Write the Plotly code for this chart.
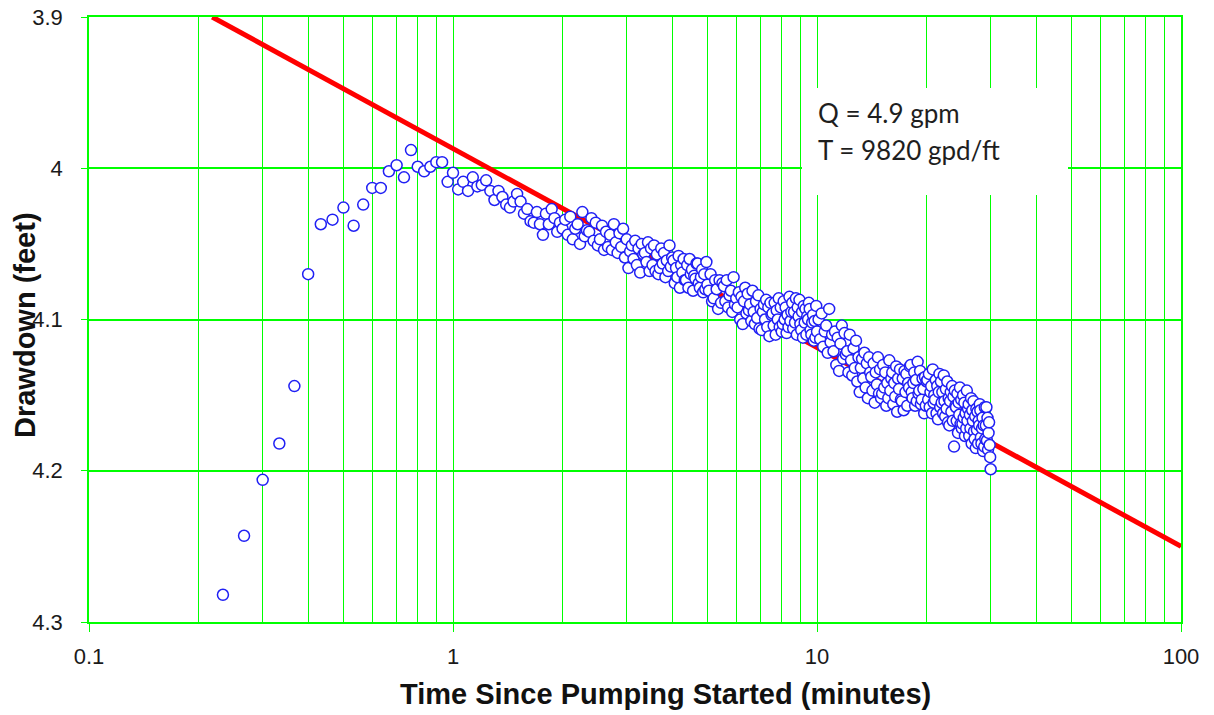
import plotly.graph_objects as go

# ---------------- data (time in seconds since pumping started, drawdown in feet) ----------------
time_early_s = [14, 16, 18, 20, 22, 24, 26, 28, 30, 32, 34, 36, 38, 40, 42, 44, 46, 48, 50, 52,
                54, 56, 58, 60]
drawdown_early_ft = [4.282, 4.243, 4.206, 4.182, 4.144, 4.070, 4.037, 4.034, 4.026, 4.038,
                     4.024, 4.013, 4.013, 4.002, 3.998, 4.006, 3.988, 3.999, 4.002, 3.999,
                     3.996, 3.996, 4.009, 4.003]

time_1to2_s = [62, 64, 66, 68, 70, 72, 74, 76, 78, 80, 82, 84, 86, 88, 90, 92, 94, 96, 98, 100,
               102, 104, 106, 108, 110, 112, 114, 116, 118, 120]
drawdown_1to2_ft = [4.014, 4.009, 4.015, 4.006, 4.012, 4.011, 4.008, 4.015, 4.021, 4.015,
                    4.019, 4.024, 4.026, 4.022, 4.017, 4.022, 4.030, 4.027, 4.035, 4.036,
                    4.029, 4.037, 4.044, 4.030, 4.037, 4.027, 4.033, 4.042, 4.036, 4.040]

time_2to5_s = [122, 124, 126, 128, 130, 132, 134, 136, 138, 140, 142, 144, 146, 148, 150,
               152, 154, 156, 158, 160, 162, 164, 166, 168, 170, 172, 174, 176, 178, 180,
               182, 184, 186, 188, 190, 192, 194, 196, 198, 200, 202, 204, 206, 208, 210,
               212, 214, 216, 218, 220, 222, 224, 226, 228, 230, 232, 234, 236, 238, 240,
               242, 244, 246, 248, 250, 252, 254, 256, 258, 260, 262, 264, 266, 268, 270,
               272, 274, 276, 278, 280, 282, 284, 286, 288, 290, 292, 294, 296, 298, 300]
drawdown_2to5_ft = [4.034, 4.044, 4.032, 4.047, 4.040, 4.037, 4.050, 4.029, 4.045, 4.041, 4.042, 4.033, 4.048, 4.036, 4.051,
                    4.047, 4.038, 4.054, 4.042, 4.052, 4.044, 4.054, 4.037, 4.049, 4.056, 4.043, 4.052, 4.040, 4.059, 4.047,
                    4.066, 4.055, 4.051, 4.060, 4.048, 4.064, 4.053, 4.069, 4.050, 4.057, 4.056, 4.062, 4.049, 4.068, 4.053,
                    4.064, 4.051, 4.068, 4.057, 4.070, 4.066, 4.053, 4.063, 4.056, 4.072, 4.061, 4.068, 4.051, 4.065, 4.059,
                    4.061, 4.076, 4.066, 4.072, 4.058, 4.079, 4.064, 4.069, 4.060, 4.074, 4.074, 4.064, 4.079, 4.060, 4.070,
                    4.067, 4.081, 4.071, 4.073, 4.063, 4.063, 4.076, 4.079, 4.072, 4.067, 4.082, 4.070, 4.080, 4.062, 4.077]

time_5to10_s = [303, 306, 309, 312, 315, 318, 321, 324, 327, 330,
                333, 336, 339, 342, 345, 348, 351, 354, 357, 360,
                363, 366, 369, 372, 375, 378, 381, 384, 387, 390,
                393, 396, 399, 402, 405, 408, 411, 414, 417, 420,
                423, 426, 429, 432, 435, 438, 441, 444, 447, 450,
                453, 456, 459, 462, 465, 468, 471, 474, 477, 480,
                483, 486, 489, 492, 495, 498, 501, 504, 507, 510,
                513, 516, 519, 522, 525, 528, 531, 534, 537, 540,
                543, 546, 549, 552, 555, 558, 561, 564, 567, 570,
                573, 576, 579, 582, 585, 588, 591, 594, 597, 600]
drawdown_5to10_ft = [4.081, 4.070, 4.088, 4.086, 4.074, 4.080, 4.093, 4.074, 4.089, 4.076,
                     4.078, 4.088, 4.074, 4.092, 4.084, 4.081, 4.095, 4.072, 4.090, 4.086,
                     4.092, 4.082, 4.100, 4.085, 4.103, 4.088, 4.079, 4.096, 4.083, 4.094,
                     4.090, 4.101, 4.081, 4.095, 4.103, 4.088, 4.099, 4.084, 4.106, 4.093,
                     4.107, 4.095, 4.090, 4.100, 4.087, 4.105, 4.092, 4.111, 4.089, 4.097,
                     4.096, 4.104, 4.089, 4.110, 4.094, 4.100, 4.086, 4.105, 4.092, 4.108,
                     4.103, 4.088, 4.100, 4.092, 4.109, 4.097, 4.105, 4.085, 4.101, 4.095,
                     4.089, 4.106, 4.095, 4.102, 4.086, 4.110, 4.092, 4.098, 4.087, 4.103,
                     4.107, 4.095, 4.112, 4.091, 4.102, 4.093, 4.110, 4.098, 4.100, 4.089,
                     4.093, 4.107, 4.110, 4.102, 4.097, 4.114, 4.101, 4.112, 4.091, 4.108]

time_10to30_s = [606, 612, 618, 624, 630, 636, 642, 648, 654, 660,
                 666, 672, 678, 684, 690, 696, 702, 708, 714, 720,
                 726, 732, 738, 744, 750, 756, 762, 768, 774, 780,
                 786, 792, 798, 804, 810, 816, 822, 828, 834, 840,
                 846, 852, 858, 864, 870, 876, 882, 888, 894, 900,
                 906, 912, 918, 924, 930, 936, 942, 948, 954, 960,
                 966, 972, 978, 984, 990, 996, 1002, 1008, 1014, 1020,
                 1026, 1032, 1038, 1044, 1050, 1056, 1062, 1068, 1074, 1080,
                 1086, 1092, 1098, 1104, 1110, 1116, 1122, 1128, 1134, 1140,
                 1146, 1152, 1158, 1164, 1170, 1176, 1182, 1188, 1194, 1200,
                 1206, 1212, 1218, 1224, 1230, 1236, 1242, 1248, 1254, 1260,
                 1266, 1272, 1278, 1284, 1290, 1296, 1302, 1308, 1314, 1320,
                 1326, 1332, 1338, 1344, 1350, 1356, 1362, 1368, 1374, 1380,
                 1386, 1392, 1398, 1404, 1410, 1416, 1422, 1428, 1434, 1440,
                 1446, 1452, 1458, 1464, 1470, 1476, 1482, 1488, 1494, 1500,
                 1506, 1512, 1518, 1524, 1530, 1536, 1542, 1548, 1554, 1560,
                 1566, 1572, 1578, 1584, 1590, 1596, 1602, 1608, 1614, 1620,
                 1626, 1632, 1638, 1644, 1650, 1656, 1662, 1668, 1674, 1680,
                 1686, 1692, 1698, 1704, 1710, 1716, 1722, 1728, 1734, 1740,
                 1746, 1752, 1758, 1764, 1770, 1776, 1782, 1788, 1794, 1800]
drawdown_10to30_ft = [4.100, 4.113, 4.096, 4.118, 4.108, 4.104, 4.122, 4.093, 4.115, 4.110,
                      4.121, 4.108, 4.130, 4.112, 4.134, 4.116, 4.104, 4.126, 4.109, 4.123,
                      4.121, 4.135, 4.110, 4.127, 4.137, 4.119, 4.132, 4.114, 4.141, 4.125,
                      4.148, 4.132, 4.126, 4.139, 4.122, 4.145, 4.129, 4.152, 4.125, 4.135,
                      4.138, 4.147, 4.129, 4.155, 4.135, 4.143, 4.125, 4.149, 4.133, 4.152,
                      4.149, 4.130, 4.145, 4.135, 4.157, 4.142, 4.152, 4.127, 4.147, 4.139,
                      4.135, 4.156, 4.142, 4.151, 4.131, 4.161, 4.139, 4.146, 4.133, 4.153,
                      4.154, 4.139, 4.160, 4.134, 4.148, 4.136, 4.157, 4.142, 4.145, 4.131,
                      4.130, 4.148, 4.152, 4.142, 4.135, 4.157, 4.140, 4.154, 4.128, 4.149,
                      4.147, 4.134, 4.156, 4.153, 4.139, 4.146, 4.162, 4.138, 4.157, 4.141,
                      4.140, 4.153, 4.136, 4.158, 4.148, 4.144, 4.162, 4.133, 4.155, 4.150,
                      4.153, 4.140, 4.162, 4.144, 4.166, 4.148, 4.136, 4.158, 4.141, 4.155,
                      4.148, 4.162, 4.137, 4.154, 4.164, 4.146, 4.159, 4.141, 4.168, 4.152,
                      4.170, 4.154, 4.148, 4.161, 4.144, 4.167, 4.151, 4.184, 4.147, 4.157,
                      4.158, 4.167, 4.149, 4.175, 4.155, 4.163, 4.145, 4.169, 4.153, 4.172,
                      4.169, 4.150, 4.165, 4.155, 4.177, 4.162, 4.172, 4.147, 4.167, 4.159,
                      4.156, 4.177, 4.163, 4.172, 4.152, 4.182, 4.160, 4.167, 4.154, 4.174,
                      4.179, 4.164, 4.185, 4.159, 4.173, 4.161, 4.182, 4.167, 4.170, 4.156,
                      4.160, 4.178, 4.182, 4.172, 4.165, 4.187, 4.170, 4.184, 4.158, 4.179,
                      4.170, 4.158, 4.180, 4.165, 4.186, 4.175, 4.168, 4.183, 4.191, 4.199]

# Cooper-Jacob straight-line fit (endpoints)
fit_time_min = [0.218, 100]
fit_drawdown_ft = [3.900, 4.250]

x_tick_vals = [0.1, 1, 10, 100]
x_tick_text = ["0.1", "1", "10", "100"]
x_minor_vals = [0.2, 0.3, 0.4, 0.5, 0.6, 0.7, 0.8, 0.9,
                2, 3, 4, 5, 6, 7, 8, 9,
                20, 30, 40, 50, 60, 70, 80, 90]
y_tick_vals = [3.9, 4.0, 4.1, 4.2, 4.3]
y_tick_text = ["3.9", "4", "4.1", "4.2", "4.3"]

info_lines = ["Q = 4.9 gpm", "T = 9820 gpd/ft"]
x_title = "Time Since Pumping Started (minutes)"
y_title = "Drawdown (feet)"

# ---------------- assemble ----------------
time_s = time_early_s + time_1to2_s + time_2to5_s + time_5to10_s + time_10to30_s
drawdown = drawdown_early_ft + drawdown_1to2_ft + drawdown_2to5_ft + drawdown_5to10_ft + drawdown_10to30_ft
assert len(time_s) == len(drawdown), (len(time_s), len(drawdown))
time_min = [s / 60.0 for s in time_s]

GREEN = "#00FF00"
W, H = 1214, 715
L, R, T, B = 89, 1181, 17, 622  # plot area in pixels

def px_x(p):
    return (p - L) / (R - L)

def px_y(p):
    return (B - p) / (B - T)

fig = go.Figure()
fig.add_trace(go.Scatter(
    x=fit_time_min, y=fit_drawdown_ft, mode="lines",
    line=dict(color="#FF0000", width=5), showlegend=False, hoverinfo="skip"))
fig.add_trace(go.Scatter(
    x=time_min, y=drawdown, mode="markers",
    marker=dict(symbol="circle", size=11, color="white",
                line=dict(color="#2020F4", width=1.5)),
    showlegend=False))

tick_font = dict(family="Liberation Sans, Arial, sans-serif", size=22, color="#1a1a1a")

fig.update_xaxes(
    type="log", range=[-1, 2], automargin=False,
    tickvals=x_tick_vals, ticktext=x_tick_text,
    showgrid=True, gridcolor=GREEN, gridwidth=1,
    minor=dict(tickvals=x_minor_vals, showgrid=True, gridcolor=GREEN, gridwidth=1, ticks=""),
    showline=True, linecolor=GREEN, linewidth=2, mirror=True,
    ticks="outside", ticklen=8, tickcolor=GREEN, tickwidth=1,
    tickfont=tick_font, zeroline=False, ticklabelstandoff=6)
fig.update_yaxes(
    range=[4.3, 3.9], automargin=False,
    tickvals=y_tick_vals, ticktext=y_tick_text,
    showgrid=True, gridcolor=GREEN, gridwidth=1.5,
    showline=True, linecolor=GREEN, linewidth=1.5, mirror=True,
    ticks="outside", ticklen=6, tickcolor=GREEN, tickwidth=1,
    tickfont=tick_font, zeroline=False, ticklabelstandoff=14)

title_font = dict(family="Liberation Sans, Arial, sans-serif", size=29, color="#111111")
annotations = [
    dict(text="<b>" + x_title + "</b>", xref="paper", yref="paper",
         x=px_x(665), y=px_y(694), xanchor="center", yanchor="middle",
         showarrow=False, font=title_font),
    dict(text="<b>" + y_title + "</b>", xref="paper", yref="paper",
         x=px_x(25), y=px_y(325), xanchor="center", yanchor="middle",
         textangle=-90, showarrow=False, font=title_font),
]
box_font = dict(family="Lato, Open Sans, sans-serif", size=26, color="#1e1e1e")
for line_txt, ypx in zip(info_lines, [113, 150]):
    annotations.append(dict(text=line_txt, xref="paper", yref="paper",
                            x=px_x(816), y=px_y(ypx), xanchor="left", yanchor="middle",
                            showarrow=False, font=box_font))

fig.update_layout(
    width=W, height=H,
    margin=dict(l=L, r=W - R, t=T, b=H - B),
    paper_bgcolor="white", plot_bgcolor="white",
    showlegend=False,
    annotations=annotations,
    shapes=[dict(type="rect", xref="paper", yref="paper",
                 x0=px_x(802), x1=px_x(1068), y0=px_y(195), y1=px_y(88),
                 fillcolor="white", line=dict(width=0), layer="above")],
)

fig.write_html("out.html")
